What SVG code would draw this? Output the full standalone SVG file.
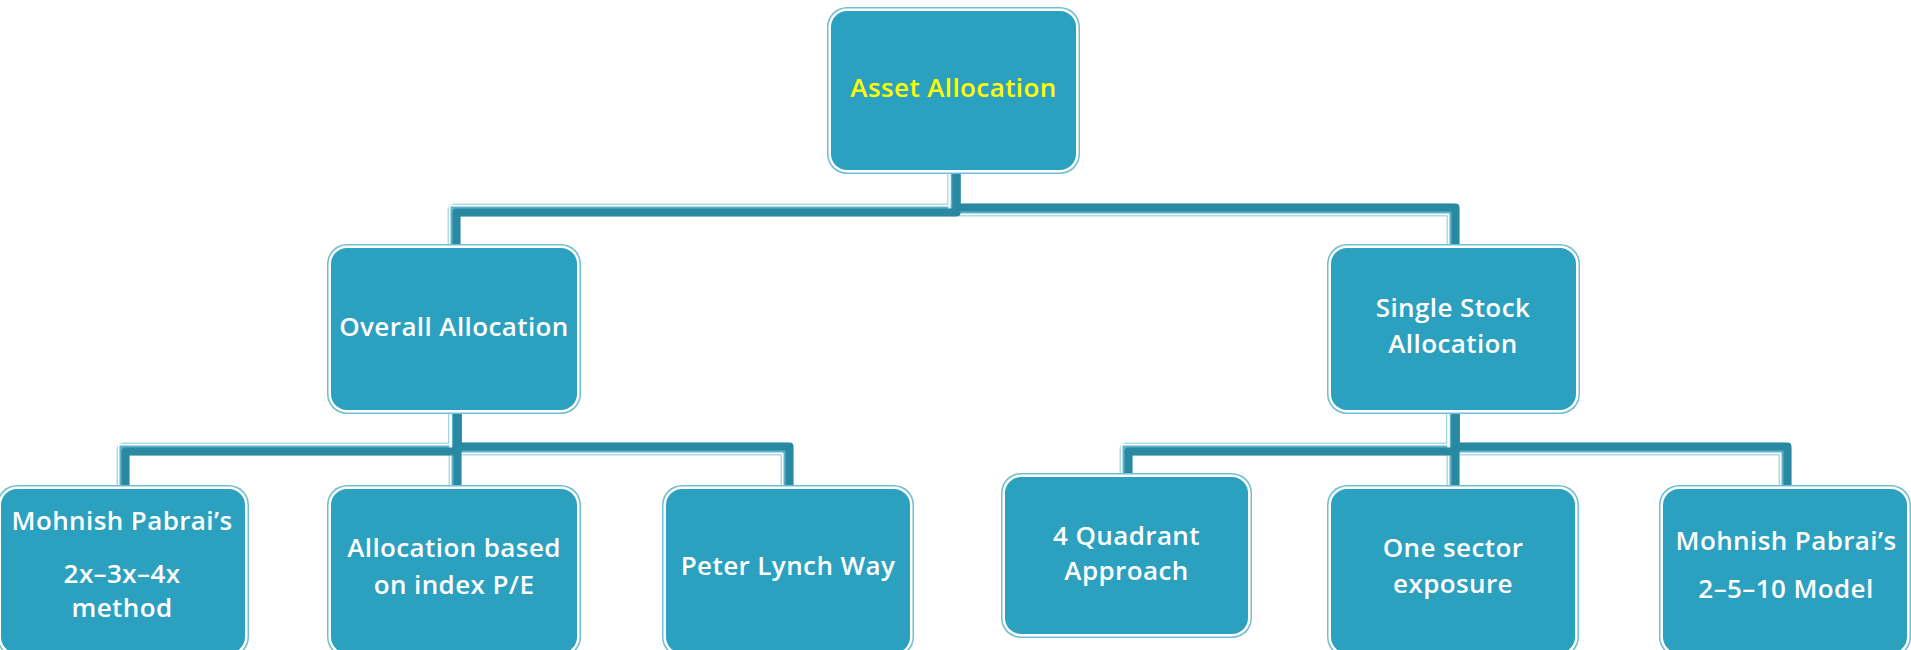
<svg xmlns="http://www.w3.org/2000/svg" width="1911" height="650" viewBox="0 0 1911 650">
  <style>
    .rim { fill: #6fbed2; }
    .gap { fill: #ffffff; }
    .face { fill: #2ca1bf; }
    .lbl { font-family: "Open Sans", "Noto Sans", "DejaVu Sans", sans-serif; font-size: 26px; font-weight: 600; letter-spacing: 0.4px; fill: #ffffff; text-anchor: middle; }
    .lbl.top { fill: #ffff00; }
    .edge { fill: none; stroke-linejoin: round; stroke-linecap: butt; }
    .edge.base { stroke: #5cb2c8; stroke-width: 12.5; }
    .edge.shine { stroke: #ffffff; stroke-width: 2; }
    .edge.core { stroke: #2a89a2; stroke-width: 8; }
  </style>

  <rect width="1911" height="650" fill="#ffffff"/>

  <!-- Elbow connectors: light band, white highlight, dark core -->
  <g id="connectors">
    <g class="edge base">
      <path d="M954,174 V210 H454 V244"/>
      <path d="M954,174 V210 H1453 V244"/>
      <path d="M455,414 V449 H123 V485"/>
      <path d="M455,414 V485"/>
      <path d="M455,414 V449 H787 V485"/>
      <path d="M1453,414 V449 H1126 V473"/>
      <path d="M1453,414 V485"/>
      <path d="M1453,414 V449 H1785 V485"/>
    </g>
    <g class="edge shine">
      <path d="M949.5,174 V205.5 H449.5 V244"/>
      <path d="M949.5,174 V214.5 H1448.5 V244"/>
      <path d="M450.5,414 V444.5 H118.5 V485"/>
      <path d="M450.5,414 V485"/>
      <path d="M450.5,414 V453.5 H782.5 V485"/>
      <path d="M1448.5,414 V444.5 H1121.5 V473"/>
      <path d="M1448.5,414 V485"/>
      <path d="M1448.5,414 V453.5 H1780.5 V485"/>
    </g>
    <g class="edge core">
      <path d="M956.5,174 V212.5 H456.5 V244"/>
      <path d="M956.5,174 V207.5 H1455.5 V244"/>
      <path d="M457.5,414 V451.5 H125.5 V485"/>
      <path d="M457.5,414 V485"/>
      <path d="M457.5,414 V446.5 H789.5 V485"/>
      <path d="M1455.5,414 V451.5 H1128.5 V473"/>
      <path d="M1455.5,414 V485"/>
      <path d="M1455.5,414 V446.5 H1787.5 V485"/>
    </g>
  </g>

  <!-- Root -->
  <g id="asset-allocation">
    <rect class="rim" x="827" y="7" width="253" height="167" rx="20"/>
    <rect class="gap" x="828.5" y="8.5" width="250" height="164" rx="18.5"/>
    <rect class="face" x="831" y="11" width="245" height="159" rx="16"/>
    <text class="lbl top" x="953.5" y="97">Asset Allocation</text>
  </g>

  <!-- Second level -->
  <g id="overall-allocation">
    <rect class="rim" x="327" y="244" width="254" height="170" rx="20"/>
    <rect class="gap" x="328.5" y="245.5" width="251" height="167" rx="18.5"/>
    <rect class="face" x="331" y="248" width="246" height="162" rx="16"/>
    <text class="lbl" x="454" y="336">Overall Allocation</text>
  </g>

  <g id="single-stock-allocation">
    <rect class="rim" x="1327" y="244" width="253" height="170" rx="20"/>
    <rect class="gap" x="1328.5" y="245.5" width="250" height="167" rx="18.5"/>
    <rect class="face" x="1331" y="248" width="245" height="162" rx="16"/>
    <text class="lbl" x="1453" y="317">Single Stock</text>
    <text class="lbl" x="1453" y="353">Allocation</text>
  </g>

  <!-- Third level: overall allocation methods -->
  <g id="pabrai-2x-3x-4x">
    <rect class="rim" x="-3" y="485" width="252" height="172" rx="20"/>
    <rect class="gap" x="-1.5" y="486.5" width="249" height="169" rx="18.5"/>
    <rect class="face" x="1" y="489" width="244" height="164" rx="16"/>
    <text class="lbl" x="122" y="530">Mohnish Pabrai’s</text>
    <text class="lbl" x="122" y="583">2x–3x–4x</text>
    <text class="lbl" x="122" y="617">method</text>
  </g>

  <g id="index-pe">
    <rect class="rim" x="327" y="485" width="254" height="172" rx="20"/>
    <rect class="gap" x="328.5" y="486.5" width="251" height="169" rx="18.5"/>
    <rect class="face" x="331" y="489" width="246" height="164" rx="16"/>
    <text class="lbl" x="454" y="557">Allocation based</text>
    <text class="lbl" x="454" y="594">on index P/E</text>
  </g>

  <g id="peter-lynch">
    <rect class="rim" x="662" y="485" width="252" height="172" rx="20"/>
    <rect class="gap" x="663.5" y="486.5" width="249" height="169" rx="18.5"/>
    <rect class="face" x="666" y="489" width="244" height="164" rx="16"/>
    <text class="lbl" x="788" y="575">Peter Lynch Way</text>
  </g>

  <!-- Third level: single stock methods -->
  <g id="four-quadrant">
    <rect class="rim" x="1001" y="473" width="251" height="165" rx="20"/>
    <rect class="gap" x="1002.5" y="474.5" width="248" height="162" rx="18.5"/>
    <rect class="face" x="1005" y="477" width="243" height="157" rx="16"/>
    <text class="lbl" x="1126.5" y="545">4 Quadrant</text>
    <text class="lbl" x="1126.5" y="580">Approach</text>
  </g>

  <g id="one-sector">
    <rect class="rim" x="1327" y="485" width="252" height="172" rx="20"/>
    <rect class="gap" x="1328.5" y="486.5" width="249" height="169" rx="18.5"/>
    <rect class="face" x="1331" y="489" width="244" height="164" rx="16"/>
    <text class="lbl" x="1453" y="557">One sector</text>
    <text class="lbl" x="1453" y="593">exposure</text>
  </g>

  <g id="pabrai-2-5-10">
    <rect class="rim" x="1659" y="485" width="252" height="172" rx="20"/>
    <rect class="gap" x="1660.5" y="486.5" width="249" height="169" rx="18.5"/>
    <rect class="face" x="1663" y="489" width="244" height="164" rx="16"/>
    <text class="lbl" x="1786" y="550">Mohnish Pabrai’s</text>
    <text class="lbl" x="1786" y="598">2–5–10 Model</text>
  </g>
</svg>
